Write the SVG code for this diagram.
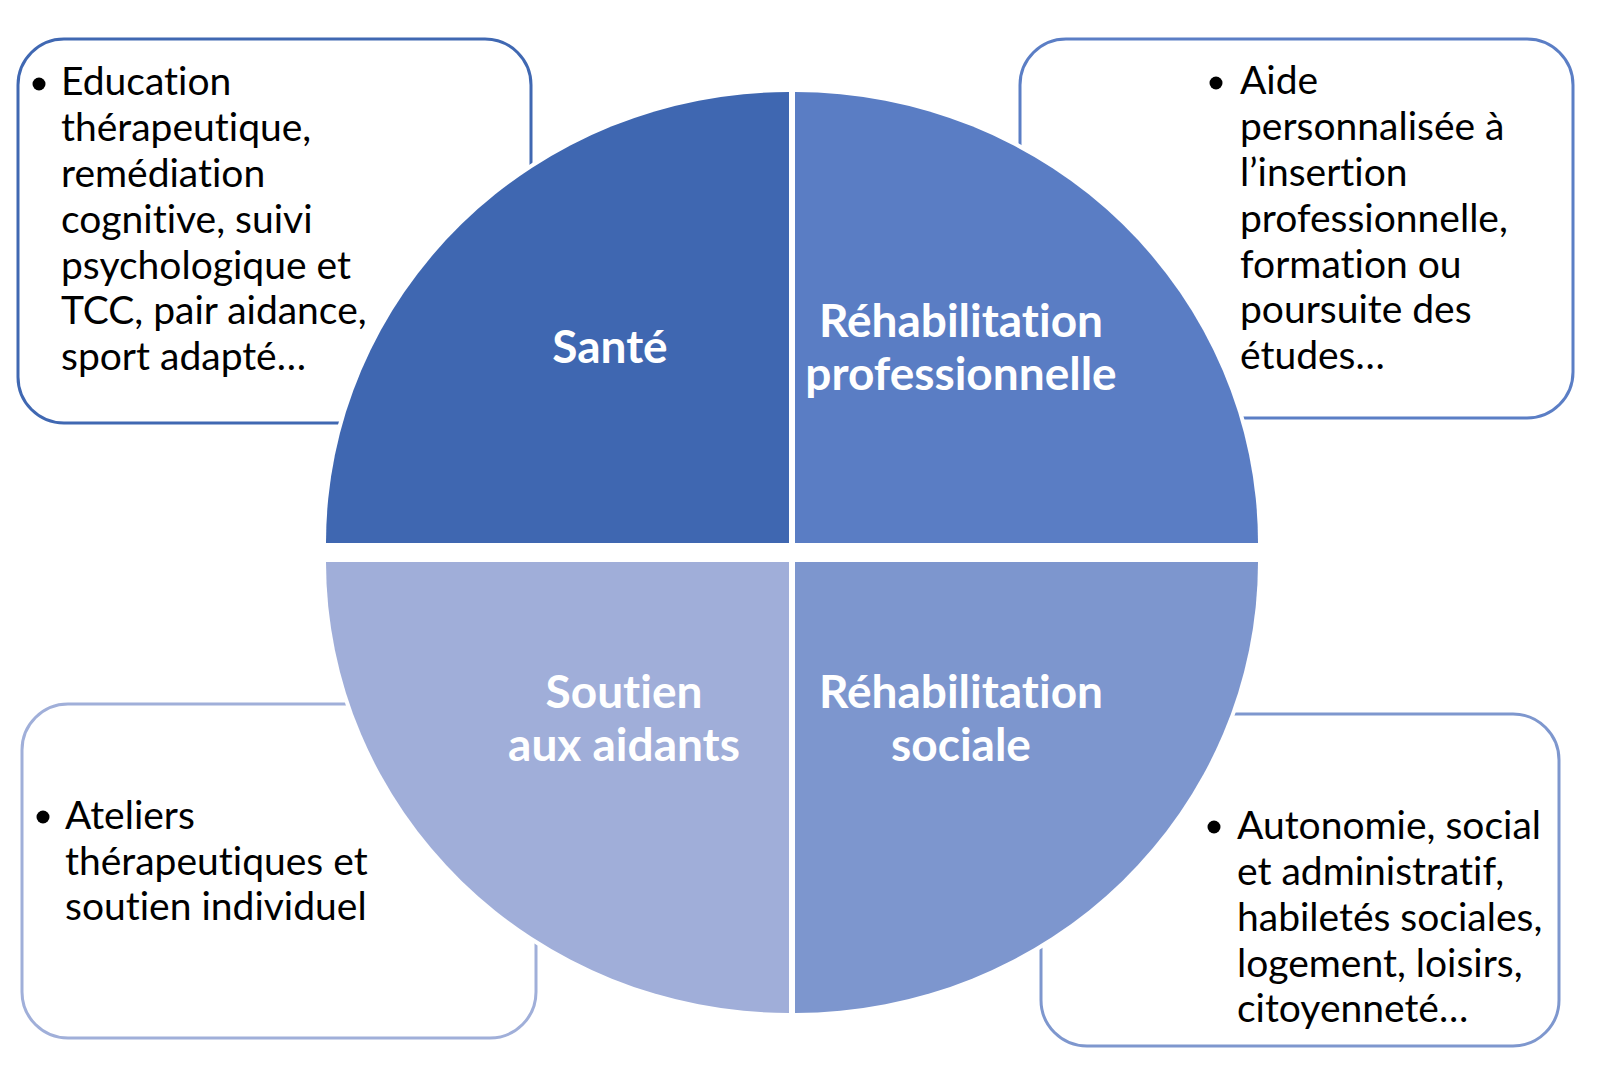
<svg xmlns="http://www.w3.org/2000/svg" width="1600" height="1072" viewBox="0 0 1600 1072">
<style>
.box{fill:#ffffff;stroke-width:3}
.body{font-family:Lato,'Liberation Sans',sans-serif;font-size:39px;fill:#000000;font-variant-ligatures:none}
.lbl{font-family:Lato,'Liberation Sans',sans-serif;font-size:46px;font-weight:bold;fill:#ffffff;text-anchor:middle;font-variant-ligatures:none}
.q{stroke:#ffffff;stroke-width:8;paint-order:stroke fill}
.dot{fill:#000000}
</style>
<rect width="1600" height="1072" fill="#ffffff"/>
<g id="box-sante">
<rect class="box" x="18" y="39" width="513" height="384" rx="46" stroke="#4068B2"/>
<circle class="dot" cx="39" cy="84" r="6.5"/>
<text class="body"><tspan x="61" y="95">Education</tspan><tspan x="61" y="141">thérapeutique,</tspan><tspan x="61" y="187">remédiation</tspan><tspan x="61" y="233">cognitive, suivi</tspan><tspan x="61" y="279">psychologique et</tspan><tspan x="61" y="324">TCC, pair aidance,</tspan><tspan x="61" y="370">sport adapté…</tspan></text>
</g>
<g id="box-pro">
<rect class="box" x="1020" y="39" width="553" height="379" rx="46" stroke="#5B7EC5"/>
<circle class="dot" cx="1216" cy="83" r="6.5"/>
<text class="body"><tspan x="1240" y="94">Aide</tspan><tspan x="1240" y="140">personnalisée à</tspan><tspan x="1240" y="186">l’insertion</tspan><tspan x="1240" y="232">professionnelle,</tspan><tspan x="1240" y="278">formation ou</tspan><tspan x="1240" y="323">poursuite des</tspan><tspan x="1240" y="369">études…</tspan></text>
</g>
<g id="box-aidants">
<rect class="box" x="22" y="704" width="514" height="334" rx="46" stroke="#A0AFD9"/>
<circle class="dot" cx="43" cy="817" r="6.5"/>
<text class="body"><tspan x="65" y="829">Ateliers</tspan><tspan x="65" y="875">thérapeutiques et</tspan><tspan x="65" y="920">soutien individuel</tspan></text>
</g>
<g id="box-sociale">
<rect class="box" x="1041" y="714" width="518" height="332" rx="46" stroke="#7E97CE"/>
<circle class="dot" cx="1214" cy="827" r="6.5"/>
<text class="body"><tspan x="1237" y="839">Autonomie, social</tspan><tspan x="1237" y="885">et administratif,</tspan><tspan x="1237" y="931">habiletés sociales,</tspan><tspan x="1237" y="977">logement, loisirs,</tspan><tspan x="1237" y="1022">citoyenneté…</tspan></text>
</g>
<g id="q-sante">
<path class="q" d="M789 543 L326 543 A463 451 0 0 1 789 92 Z" fill="#3F67B1"/>
<text class="lbl" x="610" y="363">Santé</text>
</g>
<g id="q-pro">
<path class="q" d="M795 543 L795 92 A463 451 0 0 1 1258 543 Z" fill="#5A7DC4"/>
<text class="lbl" x="961" y="337">Réhabilitation</text>
<text class="lbl" x="961" y="390">professionnelle</text>
</g>
<g id="q-aidants">
<path class="q" d="M789 562 L789 1013 A463 451 0 0 1 326 562 Z" fill="#A0AED9"/>
<text class="lbl" x="624" y="708">Soutien</text>
<text class="lbl" x="624" y="761">aux aidants</text>
</g>
<g id="q-sociale">
<path class="q" d="M795 562 L1258 562 A463 451 0 0 1 795 1013 Z" fill="#7D96CE"/>
<text class="lbl" x="961" y="708">Réhabilitation</text>
<text class="lbl" x="961" y="761">sociale</text>
</g>
<g id="connectors"></g>
</svg>
